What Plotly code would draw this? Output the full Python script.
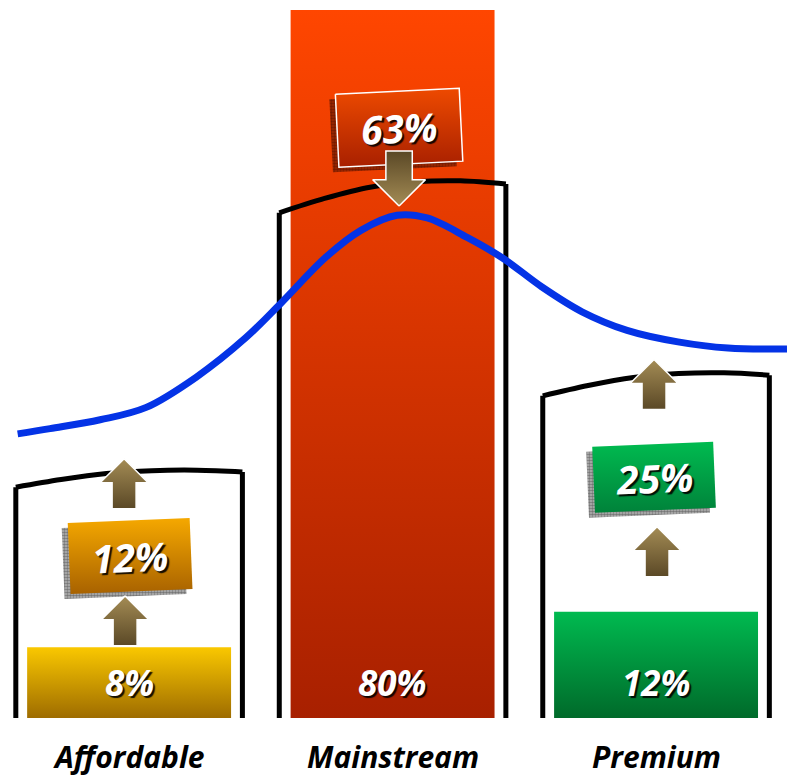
import math
import plotly.graph_objects as go

# ---- data -------------------------------------------------------------
categories = ["Affordable", "Mainstream", "Premium"]
current_share = [8, 80, 12]      # bar heights (%)
shifted_share = [12, 63, 25]     # values in the tilted call-out boxes (%)

# demand curve drawn across the segments
curve_x = [-0.423, -0.300, -0.110, 0.065, 0.254, 0.444, 0.577, 0.748, 0.880,
           1.017, 1.131, 1.283, 1.416, 1.567, 1.719, 1.890, 2.083, 2.273, 2.497]
curve_y = [32.1, 32.7, 33.7, 35.1, 38.5, 43.0, 46.9, 52.1, 55.1,
           56.8, 56.5, 54.3, 52.0, 48.7, 45.9, 43.8, 42.5, 41.8, 41.7]

# ---- styling ----------------------------------------------------------
W, H = 787, 778
X_RANGE = [-0.49, 2.497]
Y_RANGE = [-6.78, 81.13]
PX_X = W / (X_RANGE[1] - X_RANGE[0])   # pixels per x unit
PX_Y = H / (Y_RANGE[1] - Y_RANGE[0])   # pixels per y unit

BAR_HALF = 0.387
bar_top = ["#FAC800", "#FF4600", "#00BA50"]
bar_bottom = ["#9E6C00", "#A82000", "#006A2A"]
box_top = ["#F5A800", "#EE4A00", "#00BB50"]
box_bottom = ["#A86200", "#A82000", "#00823A"]
shadow_fg = ["#333333", "#4A0C00", "#333333"]
shadow_bg = ["#B8B8B8", "#A02800", "#B8B8B8"]
ARROW_LIGHT, ARROW_DARK = "#A48C55", "#5A4826"

# container rims: level of the flat top and how far the left corner dips (px)
rim_top = [28.0, 60.7, 39.0]
rim_drop_px = [17, 32, 23]
RIM_HALF = 0.43
rim_t = [0.0, 0.2, 0.4, 0.6, 0.8, 1.0]
rim_frac = [1.0, 0.55, 0.2, 0.03, 0.0, 0.1]

# call-out boxes: offset (px), centre level, size (px), tilt (deg)
box_dx_px = [1, 6.5, -2]
box_y = [18.3, 66.7, 27.2]
box_w_px = [122, 124, 121]
box_h_px = [71, 73, 66]
box_tilt = [2.3, 2.8, 2.4]
box_outline = [0, 1.5, 0]

LABEL_FONT = "'Open Sans', Lato, sans-serif"
TEXT_SHADOW = "2px 2px 1px rgba(0,0,0,0.9)"
CATEGORY_LABEL_Y = -4.3


def offset(x, y, u_px, v_px):
    """Move a data point by a screen offset given in pixels (v up)."""
    return x + u_px / PX_X, y + v_px / PX_Y


def rotated_rect(cx, cy, w, h, ang):
    a = math.radians(ang)
    xs, ys = [], []
    for u, v in [(-w / 2, h / 2), (w / 2, h / 2), (w / 2, -h / 2),
                 (-w / 2, -h / 2), (-w / 2, h / 2)]:
        ur = u * math.cos(a) - v * math.sin(a)
        vr = u * math.sin(a) + v * math.cos(a)
        px, py = offset(cx, cy, ur, vr)
        xs.append(px)
        ys.append(py)
    return xs, ys


def arrow(tx, ty, up=True, head_hw=24, head_h=24, shaft_hw=12, length=50):
    s = 1 if up else -1
    pts = [(0, 0), (head_hw, -head_h), (shaft_hw, -head_h), (shaft_hw, -length),
           (-shaft_hw, -length), (-shaft_hw, -head_h), (-head_hw, -head_h), (0, 0)]
    xs, ys = [], []
    for u, v in pts:
        px, py = offset(tx, ty, u, s * v)
        xs.append(px)
        ys.append(py)
    return xs, ys


fig = go.Figure()

# segment bars with vertical gradient
for i, v in enumerate(current_share):
    fig.add_trace(go.Scatter(
        x=[i - BAR_HALF, i + BAR_HALF, i + BAR_HALF, i - BAR_HALF, i - BAR_HALF],
        y=[0, 0, v, v, 0],
        mode="lines", fill="toself", line=dict(width=0, color=bar_top[i]),
        fillgradient=dict(type="vertical",
                          colorscale=[[0, bar_bottom[i]], [1, bar_top[i]]]),
        hoverinfo="skip", showlegend=False))

# open containers around each segment
for i in range(len(categories)):
    left, right = i - RIM_HALF, i + RIM_HALF
    drop = rim_drop_px[i] / PX_Y
    rx = [left + t * (right - left) for t in rim_t]
    ry = [rim_top[i] - f * drop for f in rim_frac]
    fig.add_trace(go.Scatter(x=rx, y=ry, mode="lines",
                             line=dict(color="black", width=5, shape="spline"),
                             hoverinfo="skip", showlegend=False))
    fig.add_trace(go.Scatter(x=[left, left, None, right, right],
                             y=[0, ry[0], None, ry[-1], 0], mode="lines",
                             line=dict(color="black", width=5),
                             hoverinfo="skip", showlegend=False))

# demand curve
fig.add_trace(go.Scatter(x=curve_x, y=curve_y, mode="lines",
                         line=dict(color="#0433E6", width=7, shape="spline"),
                         hoverinfo="skip", showlegend=False))

# tilted call-out boxes with hatched drop shadow
for i, val in enumerate(shifted_share):
    cx = i + box_dx_px[i] / PX_X
    sx, sy = offset(cx, box_y[i], -6, -5)
    xs, ys = rotated_rect(sx, sy, box_w_px[i], box_h_px[i], box_tilt[i])
    fig.add_trace(go.Scatter(
        x=xs, y=ys, mode="lines", fill="toself", line=dict(width=0),
        fillcolor=shadow_bg[i],
        fillpattern=dict(shape=".", fgcolor=shadow_fg[i], bgcolor=shadow_bg[i],
                         size=3, solidity=0.6),
        hoverinfo="skip", showlegend=False))
    xs, ys = rotated_rect(cx, box_y[i], box_w_px[i], box_h_px[i], box_tilt[i])
    fig.add_trace(go.Scatter(
        x=xs, y=ys, mode="lines", fill="toself",
        line=dict(width=box_outline[i], color="white"),
        fillgradient=dict(type="vertical",
                          colorscale=[[0, box_bottom[i]], [1, box_top[i]]]),
        hoverinfo="skip", showlegend=False))
    fig.add_annotation(x=cx, y=box_y[i], text=f"{val}%", showarrow=False,
                       textangle=-box_tilt[i],
                       font=dict(family=LABEL_FONT, size=39, color="white",
                                 weight="bold", style="italic",
                                 shadow=TEXT_SHADOW))

# arrows: (category, x offset px, tip level, pointing up, size scale)
arrow_specs = [
    (0, -4, 13.8, True, 1.0),
    (0, -5, 29.3, True, 1.0),
    (2, 1, 21.6, True, 1.0),
    (2, -2, 40.5, True, 1.0),
    (1, 6.5, 57.85, False, 1.1),
]
for cat, dx, ty, up, k in arrow_specs:
    xs, ys = arrow(cat + dx / PX_X, ty, up, head_hw=24 * k, head_h=24 * k,
                   shaft_hw=12 * k, length=50 * k)
    scale = [[0, ARROW_DARK], [1, ARROW_LIGHT]] if up else \
        [[0, ARROW_LIGHT], [1, ARROW_DARK]]
    fig.add_trace(go.Scatter(
        x=xs, y=ys, mode="lines", fill="toself",
        line=dict(width=1.5, color="white"),
        fillgradient=dict(type="vertical", colorscale=scale),
        hoverinfo="skip", showlegend=False))

# value labels inside the bars and category names below
for i, v in enumerate(current_share):
    fig.add_annotation(x=i, y=4, text=f"{v}%", showarrow=False,
                       font=dict(family=LABEL_FONT, size=35, color="white",
                                 weight="bold", style="italic",
                                 shadow=TEXT_SHADOW))
    fig.add_annotation(x=i, y=CATEGORY_LABEL_Y, text=categories[i],
                       showarrow=False, borderpad=0,
                       font=dict(family=LABEL_FONT, size=30, color="black",
                                 weight="bold", style="italic"))

fig.update_layout(
    width=W, height=H, margin=dict(l=0, r=0, t=0, b=0),
    paper_bgcolor="white", plot_bgcolor="white", showlegend=False,
    xaxis=dict(range=X_RANGE, visible=False, fixedrange=True),
    yaxis=dict(range=Y_RANGE, visible=False, fixedrange=True),
)

fig.write_html("out.html")
